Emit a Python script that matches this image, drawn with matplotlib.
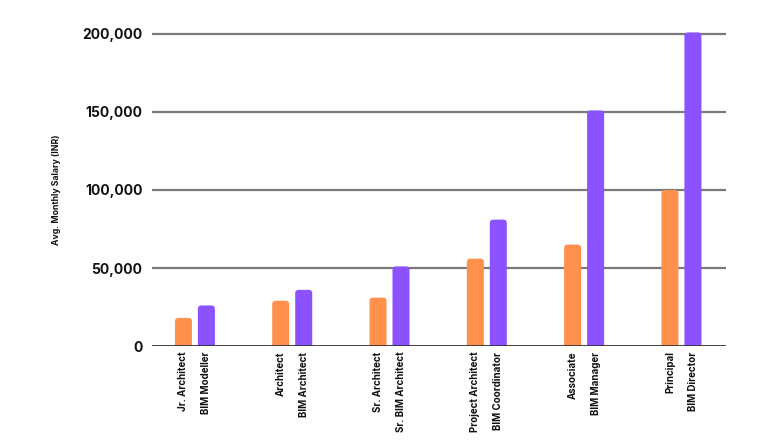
import matplotlib
matplotlib.use("Agg")
import matplotlib.pyplot as plt
from matplotlib.patches import FancyBboxPatch
import numpy as np

# data
archRoles = ["Jr. Architect", "Architect", "Sr. Architect", "Project Architect", "Associate", "Principal"]
bimRoles = ["BIM Modeller", "BIM Architect", "Sr. BIM Architect", "BIM Coordinator", "BIM Manager", "BIM Director"]
archSalary = [18000, 29000, 31000, 56000, 65000, 100000]
bimSalary = [26000, 36000, 51000, 81000, 151000, 201000]
yTicks = [0, 50000, 100000, 150000, 200000]

orange = "#FF914D"
purple = "#8C52FF"

plt.rcParams["font.family"] = ["Inter", "DejaVu Sans"]

fig = plt.figure(figsize=(7.8, 4.46), dpi=100)
ax = fig.add_axes([0.195, 0.2242, 0.736, 0.7171])

x = np.arange(len(archRoles))
off = 0.118
w = 0.175

ax.set_xlim(-0.44, 5.46)
ax.set_ylim(0, 205000)

bars1 = ax.bar(x - off, archSalary, width=w, color=orange, zorder=3)
bars2 = ax.bar(x + off, bimSalary, width=w, color=purple, zorder=3)

# swap plain bars for ones with rounded tops
fig.canvas.draw()
bb = ax.get_window_extent()
xPerPx = (5.46 + 0.44) / bb.width
yPerPx = 205000 / bb.height
aspect = yPerPx / xPerPx
for b in list(bars1) + list(bars2):
    x0 = b.get_x()
    h = b.get_height()
    p = FancyBboxPatch((x0, -8000), b.get_width(), h + 8000,
                       boxstyle="round,pad=0,rounding_size=%f" % (3.5 * xPerPx),
                       mutation_aspect=aspect, fc=b.get_facecolor(), ec="none", zorder=3)
    ax.add_patch(p)
    b.set_visible(False)

# grid lines
for t in yTicks[1:]:
    ax.axhline(t, color="#7a7a7a", lw=1.6, zorder=1)
ax.axhline(0, color="#333333", lw=2.0, zorder=4)

for s in ax.spines.values():
    s.set_visible(False)

ax.set_yticks(yTicks)
ax.set_yticklabels([f"{t:,}" for t in yTicks], fontsize=10, fontweight="bold", color="#111111")
ax.tick_params(axis="y", length=0, pad=7)

ticks = np.concatenate([x - off, x + off])
labels = archRoles + bimRoles
ax.set_xticks(ticks)
ax.set_xticklabels(labels, rotation=90, fontsize=7, fontweight="bold", color="#111111", va="top")
ax.tick_params(axis="x", length=0, pad=4)

fig.text(0.073, 0.575, "Avg. Monthly Salary (INR)", rotation=90, fontsize=6.3,
         fontweight="bold", ha="center", va="center", color="#111111")

fig.savefig("out.png", dpi=100)
